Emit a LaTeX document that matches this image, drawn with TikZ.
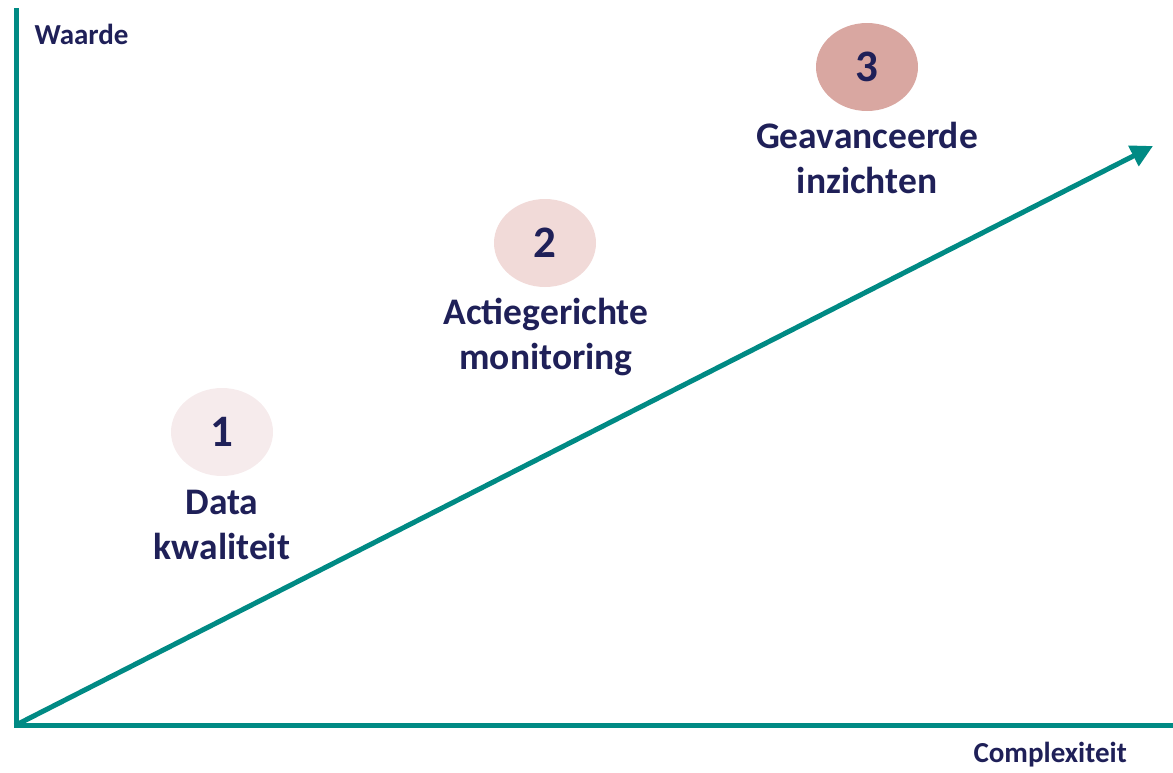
\documentclass[tikz,border=0pt]{standalone}
\usepackage{fontspec}
\setmainfont{Carlito}
\usetikzlibrary{arrows.meta,shapes.geometric}
\definecolor{teal1}{HTML}{008A84}
\definecolor{navy}{HTML}{1F2058}
\definecolor{pink1}{HTML}{F6EBEC}
\definecolor{pink2}{HTML}{F1DAD8}
\definecolor{pink3}{HTML}{D9A7A1}
\begin{document}
\begin{tikzpicture}[x=1pt,y=-1pt,
  axis/.style={draw=teal1,line width=5pt},
  bubble/.style={ellipse,minimum width=102pt,minimum height=88pt,inner sep=0pt,text=navy,font=\bfseries\fontsize{45}{45}\selectfont},
  lbl/.style={text=navy,align=center,font=\bfseries\fontsize{37.5}{45}\selectfont},
  axlbl/.style={text=navy,font=\bfseries\fontsize{29}{34}\selectfont}]
\useasboundingbox (0,0) rectangle (1173,772);
\coordinate (O) at (16,725);
\coordinate (Ytop) at (16,8);
\coordinate (Xend) at (1173,725);
\coordinate (T) at (1153,146);
\draw[axis,line cap=butt] (O) -- (Ytop);
\draw[axis] ([xshift=-2.5pt]O) -- (Xend);
\draw[axis,-{Triangle[length=22pt,width=22pt]}] (O) -- (T);
\node[bubble,fill=pink1] (b1) at (222,432) {1};
\node[bubble,fill=pink2] (b2) at (545,243) {2};
\node[bubble,fill=pink3] (b3) at (867,67) {3};
\node[lbl,anchor=north] (l1) at (222,487) {Data\\kwaliteit};
\node[lbl,anchor=north] (l2) at (546,295) {Actiegerichte\\monitoring};
\node[lbl,anchor=north] (l3) at (867,119) {Geavanceerde\\inzichten};
\node[axlbl,anchor=west] (yl) at (31,34) {Waarde};
\node[axlbl,anchor=west] (xl) at (970,755) {Complexiteit};
\end{tikzpicture}
\end{document}
